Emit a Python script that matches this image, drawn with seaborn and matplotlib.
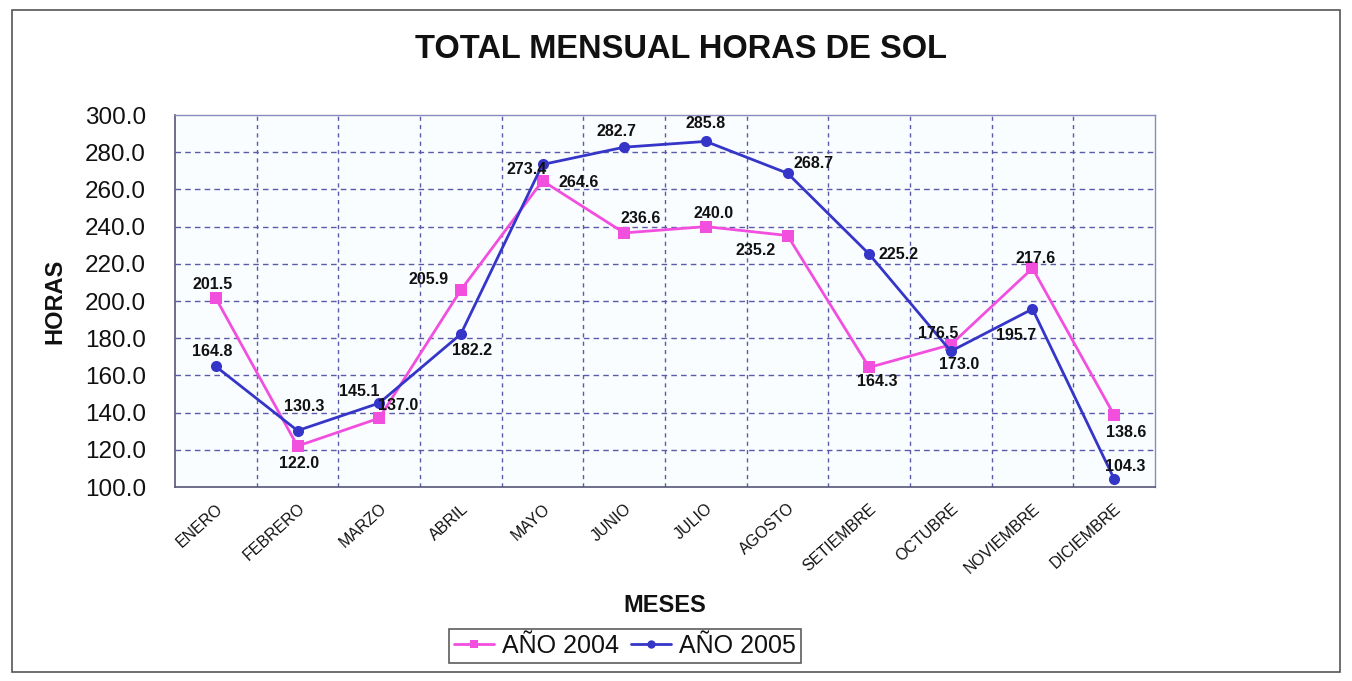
import numpy as np
import pandas as pd
import matplotlib
matplotlib.use("Agg")
import matplotlib.pyplot as plt
import seaborn as sns
from matplotlib.patches import Rectangle

meses = ["ENERO", "FEBRERO", "MARZO", "ABRIL", "MAYO", "JUNIO", "JULIO",
         "AGOSTO", "SETIEMBRE", "OCTUBRE", "NOVIEMBRE", "DICIEMBRE"]
horas_2004 = [201.5, 122.0, 137.0, 205.9, 264.6, 236.6, 240.0, 235.2, 164.3, 176.5, 217.6, 138.6]
horas_2005 = [164.8, 130.3, 145.1, 182.2, 273.4, 282.7, 285.8, 268.7, 225.2, 173.0, 195.7, 104.3]

# desplazamientos de las etiquetas (pixeles)
off_2004 = [(-3, 14), (2, -17), (19, 13), (-32, 11), (36, -2), (17, 14),
            (8, 13), (-32, -15), (8, -14), (-13, 11), (3, 10), (12, -17)]
off_2005 = [(-4, 15), (7, 24), (-20, 12), (11, -16), (-16, -5), (-8, 16),
            (0, 18), (26, 10), (29, 0), (8, -13), (-16, -27), (11, 13)]

df = pd.DataFrame({
    "mes": meses * 2,
    "idx": list(range(12)) * 2,
    "horas": horas_2004 + horas_2005,
    "serie": ["AÑO 2004"] * 12 + ["AÑO 2005"] * 12,
})

sns.set_style("white")
plt.rcParams['font.family'] = ['Liberation Sans', 'DejaVu Sans']
plt.rcParams['text.color'] = "#111111"
plt.rcParams['xtick.labelcolor'] = "#111111"
plt.rcParams['ytick.labelcolor'] = "#111111"

rosa = "#F24FDF"
azul = "#3535C8"

fig = plt.figure(figsize=(13.52, 6.81), dpi=100)
ax = fig.add_axes([175 / 1352, 1 - 487 / 681, 980 / 1352, 372 / 681])
ax.set_facecolor("#FAFDFF")

sns.lineplot(data=df, x="idx", y="horas", hue="serie", style="serie",
             markers={"AÑO 2004": "s", "AÑO 2005": "o"}, dashes=False,
             palette={"AÑO 2004": rosa, "AÑO 2005": azul},
             linewidth=2, markersize=8, markeredgewidth=0, ax=ax)

for vals, offs in [(horas_2004, off_2004), (horas_2005, off_2005)]:
    for i, (v, o) in enumerate(zip(vals, offs)):
        ax.annotate(f"{v:.1f}", (i, v), xytext=o, textcoords="offset pixels",
                    ha="center", va="center", fontsize=11.5, fontweight="bold",
                    color="#111111")

ax.set_xlim(-0.5, 11.5)
ax.set_ylim(100, 300)
ax.set_yticks(np.arange(100, 301, 20))
ax.set_yticklabels([f"{t:.1f}" for t in np.arange(100, 301, 20)], fontsize=17.5)
ax.set_xticks(range(12))
ax.set_xticklabels(meses, rotation=42, ha="right", rotation_mode="anchor", fontsize=11.5)
for lbl in ax.get_xticklabels():
    lbl.set_x(lbl.get_position()[0])
ax.set_xticks(np.arange(-0.5, 12, 1), minor=True)
ax.tick_params(axis="x", which="major", length=0, pad=10)
ax.tick_params(axis="x", which="minor", length=6, direction="inout", color="#555577")
ax.tick_params(axis="y", length=6, direction="inout", color="#555577", pad=18)

ax.grid(False)
for y in np.arange(120, 300, 20):
    ax.axhline(y, color="#5a5aa8", linestyle=(0, (4, 3)), linewidth=1, zorder=0)
for x in np.arange(0.5, 11.5, 1):
    ax.axvline(x, color="#5a5aa8", linestyle=(0, (3, 3)), linewidth=1, zorder=0)

for s in ["top", "right"]:
    ax.spines[s].set_color("#8a8ac0")
    ax.spines[s].set_linewidth(1)
for s in ["left", "bottom"]:
    ax.spines[s].set_color("#555577")
    ax.spines[s].set_linewidth(1.2)

ax.set_xlabel("")
ax.set_ylabel("")
fig.text(55 / 1352, 1 - 301 / 681, "HORAS", rotation=90, ha="center", va="center",
         fontsize=17, fontweight="bold")
fig.text(665 / 1352, 1 - 606 / 681, "MESES", ha="center", va="center",
         fontsize=17, fontweight="bold")
fig.text(681 / 1352, 1 - 50 / 681, "TOTAL MENSUAL HORAS DE SOL", ha="center", va="center",
         fontsize=23.5, fontweight="bold")

ax.legend_.remove()
handles, labels = ax.get_legend_handles_labels()
for h in handles:
    h.set_markersize(6)
leg = fig.legend(handles, labels, loc="center", bbox_to_anchor=(625 / 1352, 1 - 646 / 681),
                 ncol=2, fontsize=18, frameon=True, fancybox=False, handlelength=1.6,
                 handletextpad=0.3, columnspacing=0.5, borderpad=0.2)
leg.get_frame().set_edgecolor("#333333")
leg.get_frame().set_linewidth(1.2)

fig.patches.append(Rectangle((12 / 1352, 1 - 672 / 681), 1328 / 1352, 662 / 681,
                             transform=fig.transFigure, fill=False,
                             edgecolor="#555555", linewidth=1.2))

fig.savefig("out.png", dpi=100)
